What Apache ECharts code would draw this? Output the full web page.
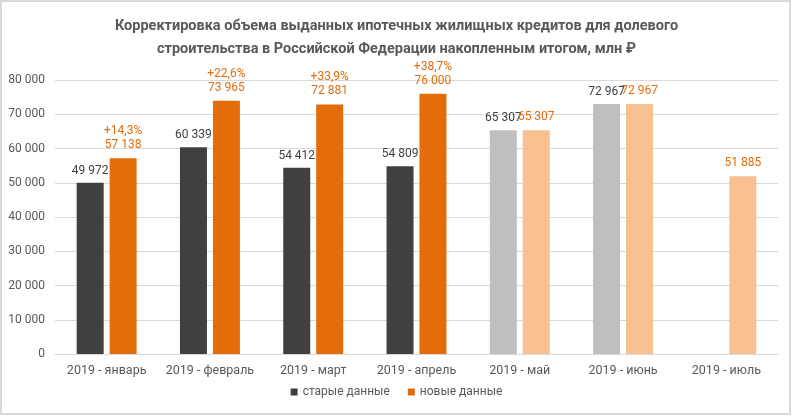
<!DOCTYPE html>
<html>
<head>
<meta charset="utf-8">
<script src="https://cdn.jsdelivr.net/npm/echarts@6/dist/echarts.min.js"></script>
<style>
html,body{margin:0;padding:0;background:#fff;}
#c{width:793px;height:416px;}
</style>
</head>
<body>
<div id="c"></div>
<script>
const categories = ['2019 - январь','2019 - февраль','2019 - март','2019 - апрель','2019 - май','2019 - июнь','2019 - июль'];
const oldData = [49972, 60339, 54412, 54809, 65307, 72967, null];
const newData = [57138, 73965, 72881, 76000, 65307, 72967, 51885];
const pctLabels = ['+14,3%', '+22,6%', '+33,9%', '+38,7%', '', '', ''];
const oldIsPreliminary = [false, false, false, false, true, true, true];
const newIsPreliminary = [false, false, false, false, true, true, true];
const yTicks = [0, 10000, 20000, 30000, 40000, 50000, 60000, 70000, 80000];

const DARK = '#404040', ORANGE = '#E46C0A', LGRAY = '#BFBFBF', PEACH = '#F9C091';
const fmt = v => String(v).replace(/\B(?=(\d{3})+(?!\d))/g, ' ');

const chart = echarts.init(document.getElementById('c'), null, {renderer: 'canvas'});
chart.setOption({
  animation: false,
  textStyle: {fontFamily: 'Roboto'},
  title: {
    text: 'Корректировка объема выданных ипотечных жилищных кредитов для долевого\nстроительства в Российской Федерации накопленным итогом, млн ₽',
    left: 'center', top: 10,
    textStyle: {fontFamily: 'Roboto', fontWeight: 'bold', fontSize: 14.5, color: '#595959', lineHeight: 23, align: 'center'}
  },
  legend: {
    bottom: 13, left: 'center',
    itemWidth: 7, itemHeight: 7, itemGap: 18,
    icon: 'rect',
    textStyle: {fontFamily: 'Roboto', fontSize: 12, color: '#595959'},
    data: [{name: 'старые данные', itemStyle: {color: DARK}}, {name: 'новые данные', itemStyle: {color: ORANGE}}]
  },
  graphic: [{
    type: 'rect', silent: true, z: 100,
    shape: {x: 1, y: 1, width: 789, height: 413},
    style: {fill: 'none', stroke: '#D9D9D9', lineWidth: 2}
  }],
  grid: {left: 55, right: 15, top: 80, bottom: 62, containLabel: false},
  xAxis: {
    type: 'category', data: categories,
    axisLine: {lineStyle: {color: '#D9D9D9', width: 1}},
    axisTick: {show: false},
    axisLabel: {interval: 0, fontFamily: 'Roboto', fontSize: 12.5, color: '#595959', margin: 10}
  },
  yAxis: {
    type: 'value', min: yTicks[0], max: yTicks[yTicks.length - 1], interval: yTicks[1] - yTicks[0],
    axisLine: {show: false}, axisTick: {show: false},
    splitLine: {lineStyle: {color: '#D9D9D9', width: 1}},
    axisLabel: {fontFamily: 'Roboto', fontSize: 12, color: '#595959', margin: 10, formatter: v => fmt(v)}
  },
  series: [{
    name: 'старые данные', type: 'bar', barWidth: 27, barGap: '22%',
    data: oldData.map((v, i) => ({value: v, itemStyle: {color: oldIsPreliminary[i] ? LGRAY : DARK}})),
    label: {show: true, position: 'top', distance: 6, fontFamily: 'Roboto', fontSize: 12, color: DARK,
      formatter: p => p.value == null ? '' : fmt(p.value)}
  }, {
    name: 'новые данные', type: 'bar', barWidth: 27,
    data: newData.map((v, i) => ({value: v, itemStyle: {color: newIsPreliminary[i] ? PEACH : ORANGE}})),
    label: {show: true, position: 'top', distance: 6, fontFamily: 'Roboto', fontSize: 12, color: ORANGE, lineHeight: 14,
      formatter: p => (pctLabels[p.dataIndex] ? pctLabels[p.dataIndex] + '\n' : '') + fmt(p.value)}
  }]
});
</script>
</body>
</html>
